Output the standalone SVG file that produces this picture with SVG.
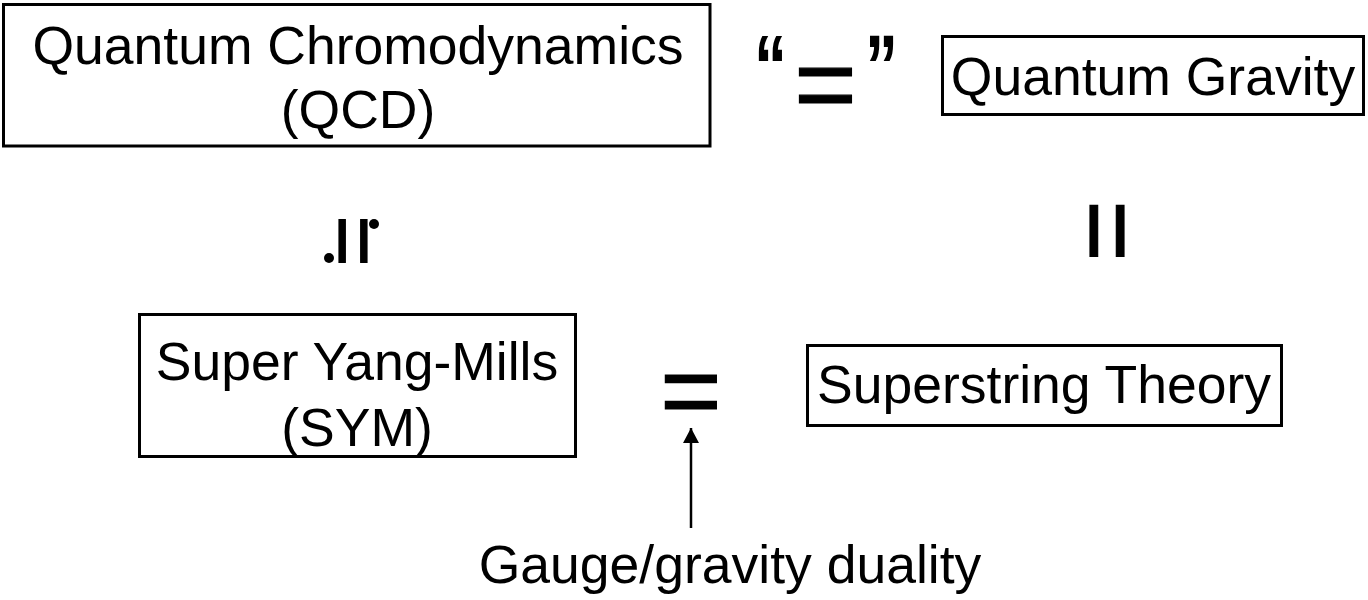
<svg xmlns="http://www.w3.org/2000/svg" width="1368" height="600" viewBox="0 0 1368 600">
  <style>
    .box { fill: #ffffff; stroke: #000000; stroke-width: 3; }
    .lbl { font-family: "Liberation Sans", Arial, Helvetica, sans-serif; font-size: 53.5px; fill: #000000; text-anchor: middle; }
    .eq { font-family: "Liberation Sans", Arial, Helvetica, sans-serif; fill: #000000; stroke: #000000; stroke-width: 1.2; text-anchor: middle; }
    .q { font-family: "Liberation Sans", Arial, Helvetica, sans-serif; font-weight: bold; font-size: 66px; fill: #000000; }
    .conn { stroke: #000000; stroke-width: 2.5; fill: none; }
  </style>
  <defs>
    <marker id="arrow" markerWidth="18" markerHeight="18" refX="15" refY="8" orient="auto" markerUnits="userSpaceOnUse">
      <path d="M0,0 L15,8 L0,16 Z" fill="#000000"/>
    </marker>
  </defs>
  <rect width="1368" height="600" fill="#ffffff"/>

  <g id="qcd">
    <rect class="box" x="3.5" y="4.5" width="706.5" height="141.5"/>
    <text class="lbl" x="358" y="64">Quantum Chromodynamics</text>
    <text class="lbl" x="358" y="128">(QCD)</text>
  </g>

  <g id="quantum-gravity">
    <rect class="box" x="942.5" y="36.5" width="421" height="78"/>
    <text class="lbl" x="1153" y="95">Quantum Gravity</text>
  </g>

  <g id="sym">
    <rect class="box" x="139.5" y="314.5" width="436" height="142"/>
    <text class="lbl" x="357" y="380">Super Yang-Mills</text>
    <text class="lbl" x="357" y="446">(SYM)</text>
  </g>

  <g id="superstring">
    <rect class="box" x="807.5" y="345.5" width="474" height="80"/>
    <text class="lbl" x="1044" y="403">Superstring Theory</text>
  </g>

  <g id="quasi-equal">
    <g transform="scale(1,1.35)">
      <text class="q" x="754" y="71.5">“</text>
      <text class="q" x="898" y="71.5" text-anchor="end">”</text>
    </g>
    <text class="eq" x="825.5" y="121" font-size="107">=</text>
  </g>

  <g id="approx-equal">
    <g transform="translate(351.7,241) rotate(90)">
      <text class="eq" x="0" y="27.3" font-size="88">=</text>
    </g>
    <circle cx="329" cy="258" r="5" fill="#000000"/>
    <circle cx="374" cy="224" r="5" fill="#000000"/>
  </g>

  <g id="equal-right">
    <g transform="translate(1104,231) rotate(90)">
      <text class="eq" x="0" y="32.5" font-size="105">=</text>
    </g>
  </g>

  <g id="equal-bottom">
    <text class="eq" x="691" y="427" font-size="105">=</text>
  </g>

  <g id="duality-label">
    <text class="lbl" x="730" y="583">Gauge/gravity duality</text>
  </g>

  <g id="connectors">
    <line class="conn" x1="691" y1="528" x2="691" y2="428" marker-end="url(#arrow)"/>
  </g>
</svg>
